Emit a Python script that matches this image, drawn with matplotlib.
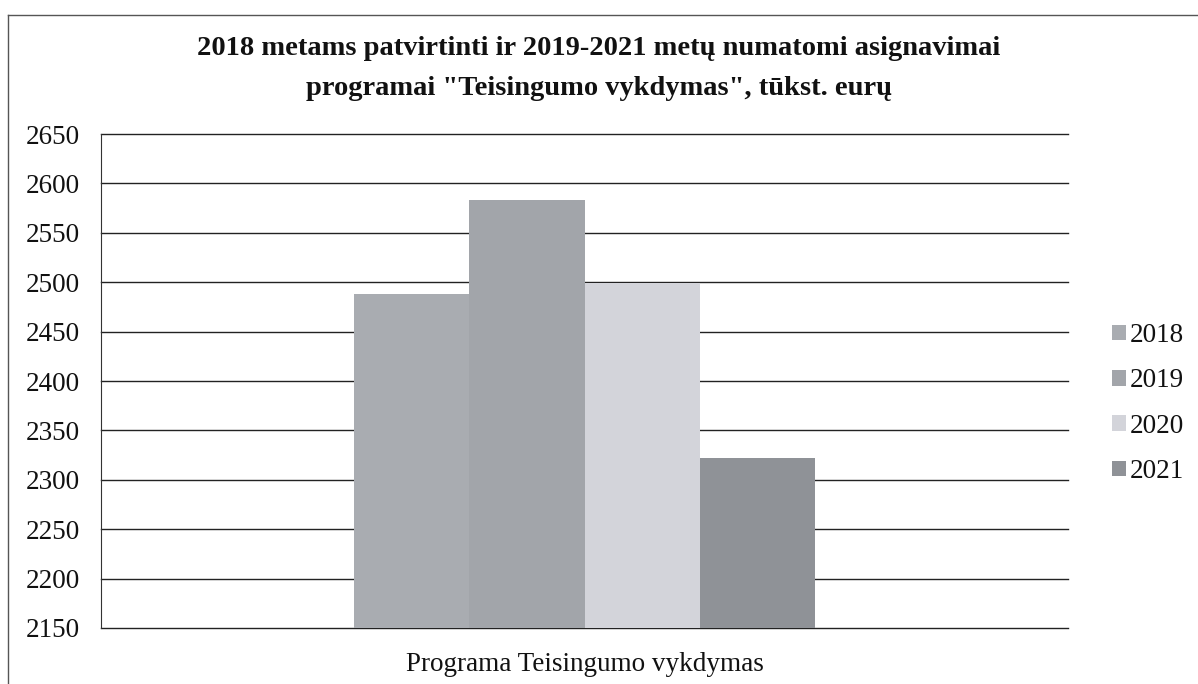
import matplotlib.pyplot as plt
from matplotlib.lines import Line2D

years = ['2018', '2019', '2020', '2021']
values = [2488, 2583, 2499, 2322]
colors = ['#a9acb1', '#a2a5aa', '#d3d4da', '#8f9297']
category = 'Programa Teisingumo vykdymas'
yticks = [2150, 2200, 2250, 2300, 2350, 2400, 2450, 2500, 2550, 2600, 2650]

plt.rcParams['font.family'] = ['Liberation Serif', 'DejaVu Serif']

fig = plt.figure(figsize=(11.98, 6.84), dpi=100)
ax = fig.add_axes([0.0843, 0.0819, 0.8072, 0.7221])

w = 0.119
for i, (yr, v, c) in enumerate(zip(years, values, colors)):
    ax.bar((i - 1.5) * w, v - yticks[0], bottom=yticks[0], width=w,
           color=c, label=yr, zorder=3)

ax.set_xlim(-0.5, 0.5)
ax.set_ylim(yticks[0], yticks[-1])
ax.set_yticks(yticks)
ax.set_xticks([0])
ax.set_xticklabels([category])
ax.tick_params(axis='both', length=0, labelsize=19.5, labelcolor='#111111')
ax.tick_params(axis='y', pad=15)
ax.tick_params(axis='x', pad=17)
ax.yaxis.grid(True, color='#222222', linewidth=1.0, zorder=0)
for gl in ax.get_ygridlines():
    gl.set_clip_on(False)
for s in ['top', 'right', 'bottom']:
    ax.spines[s].set_visible(False)
ax.spines['left'].set_color('#333333')

fig.text(0.5, 0.9, '2018 metams patvirtinti ir 2019-2021 metų numatomi asignavimai\n'
         'programai "Teisingumo vykdymas", tūkst. eurų',
         ha='center', va='center', fontsize=20.5, fontweight='bold',
         linespacing=1.75, color='#111111')

leg = fig.legend(loc='center left', bbox_to_anchor=(0.908, 0.41),
                 frameon=False, fontsize=19.5, handlelength=0.5,
                 handleheight=0.5, handletextpad=0.15, labelspacing=0.75,
                 labelcolor='#111111')

fig.lines.append(Line2D([0.0067, 1.0], [0.978, 0.978], transform=fig.transFigure,
                        color='#555555', linewidth=1.0))
fig.lines.append(Line2D([0.0067, 0.0067], [0.0, 0.978], transform=fig.transFigure,
                        color='#555555', linewidth=1.0))

fig.savefig('out.png', dpi=100)
